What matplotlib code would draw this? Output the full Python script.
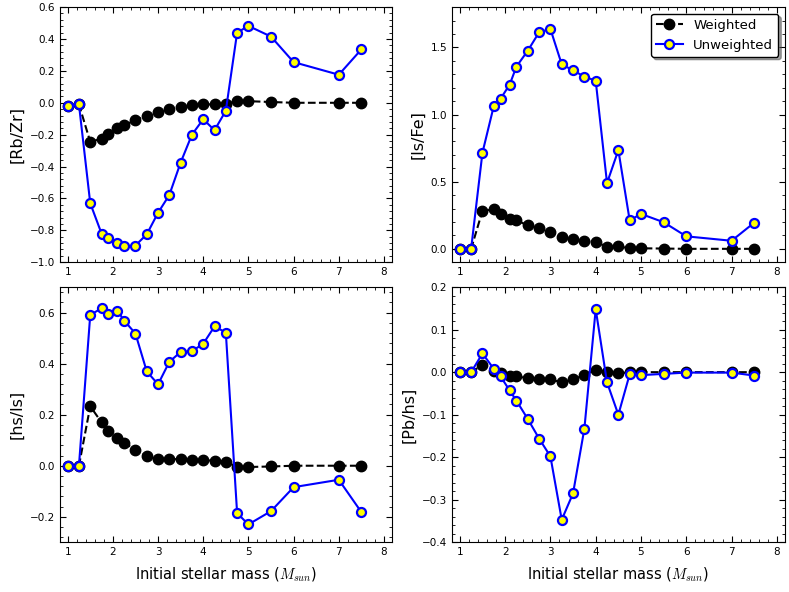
import matplotlib
matplotlib.use("Agg")
import matplotlib.pyplot as plt
from matplotlib.ticker import AutoMinorLocator, MultipleLocator

plt.rcParams['mathtext.fontset'] = 'cm'

mass = [1, 1.25, 1.5, 1.75, 1.9, 2.1, 2.25, 2.5, 2.75, 3, 3.25, 3.5, 3.75,
        4, 4.25, 4.5, 4.75, 5, 5.5, 6, 7, 7.5]

# [Rb/Zr]
rbzr_w = [-0.02, -0.01, -0.245, -0.225, -0.195, -0.16, -0.14, -0.11, -0.08,
          -0.055, -0.04, -0.025, -0.015, -0.01, -0.01, -0.005, 0.01, 0.01,
          0.005, 0.0, 0.0, 0.0]
rbzr_u = [-0.02, -0.01, -0.63, -0.82, -0.845, -0.88, -0.9, -0.895, -0.825,
          -0.69, -0.578, -0.375, -0.2, -0.103, -0.172, -0.05, 0.44, 0.482,
          0.415, 0.255, 0.176, 0.335]

# [ls/Fe]
lsfe_w = [0.0, 0.0, 0.283, 0.293, 0.256, 0.221, 0.211, 0.176, 0.156, 0.129,
          0.09, 0.072, 0.059, 0.052, 0.014, 0.018, 0.004, 0.004, 0.002, 0.0,
          0.0, 0.0]
lsfe_u = [0.0, 0.0, 0.716, 1.063, 1.118, 1.222, 1.357, 1.475, 1.612, 1.637,
          1.374, 1.329, 1.282, 1.252, 0.49, 0.735, 0.212, 0.26, 0.198, 0.093,
          0.06, 0.195]

# [hs/ls]
hsls_w = [0.0, 0.0, 0.233, 0.17, 0.136, 0.11, 0.09, 0.063, 0.037, 0.026,
          0.027, 0.025, 0.022, 0.021, 0.02, 0.016, -0.005, -0.005, -0.003,
          0.0, 0.0, 0.0]
hsls_u = [0.0, 0.0, 0.591, 0.617, 0.595, 0.608, 0.569, 0.518, 0.37, 0.319,
          0.407, 0.446, 0.449, 0.478, 0.546, 0.522, -0.186, -0.23, -0.178,
          -0.084, -0.055, -0.182]

# [Pb/hs]
pbhs_w = [0.0, 0.0, 0.017, 0.002, -0.003, -0.008, -0.01, -0.014, -0.016,
          -0.017, -0.024, -0.017, -0.007, 0.006, 0.0, -0.003, 0.0, 0.0, 0.0,
          0.0, 0.0, 0.0]
pbhs_u = [0.0, 0.0, 0.044, 0.008, -0.01, -0.043, -0.067, -0.11, -0.156,
          -0.198, -0.347, -0.285, -0.133, 0.148, -0.024, -0.1, -0.005, -0.007,
          -0.004, -0.001, -0.001, -0.008]

panels = [
    (rbzr_w, rbzr_u, '[Rb/Zr]', (-1.0, 0.6), 0.2),
    (lsfe_w, lsfe_u, '[ls/Fe]', (-0.1, 1.8), 0.5),
    (hsls_w, hsls_u, '[hs/ls]', (-0.3, 0.7), 0.2),
    (pbhs_w, pbhs_u, '[Pb/hs]', (-0.4, 0.2), 0.1),
]

fig = plt.figure(figsize=(7.89, 5.92), dpi=100)
boxes = [
    [0.076, 0.557, 0.421, 0.431],
    [0.573, 0.557, 0.422, 0.431],
    [0.076, 0.084, 0.421, 0.431],
    [0.573, 0.084, 0.422, 0.431],
]

for i, (w, u, label, ylim, ystep) in enumerate(panels):
    ax = fig.add_axes(boxes[i])
    ax.plot(mass, w, 'k--', marker='o', markersize=7.5, lw=1.5,
            label='Weighted')
    ax.plot(mass, u, '-', color='blue', marker='o', markersize=6.5,
            markerfacecolor='yellow', markeredgecolor='blue',
            markeredgewidth=1.6, lw=1.5, label='Unweighted')
    ax.set_xlim(0.83, 8.18)
    ax.set_ylim(*ylim)
    ax.xaxis.set_major_locator(MultipleLocator(1))
    ax.yaxis.set_major_locator(MultipleLocator(ystep))
    ax.xaxis.set_minor_locator(AutoMinorLocator(5))
    ax.yaxis.set_minor_locator(AutoMinorLocator(5))
    ax.tick_params(which='both', direction='in', top=True, right=True,
                   labelsize=7.5)
    ax.tick_params(which='major', length=4)
    ax.tick_params(which='minor', length=2)
    ax.set_ylabel(label, fontsize=11.5)
    if i >= 2:
        ax.set_xlabel(r'Initial stellar mass ($M_{sun}$)', fontsize=10.5,
                      labelpad=6)
    if i == 1:
        ax.legend(loc='upper right', fontsize=9.5, shadow=True,
                  fancybox=True, numpoints=1, handlelength=2.0,
                  framealpha=1, edgecolor='black')

fig.savefig('out.png', dpi=100)
